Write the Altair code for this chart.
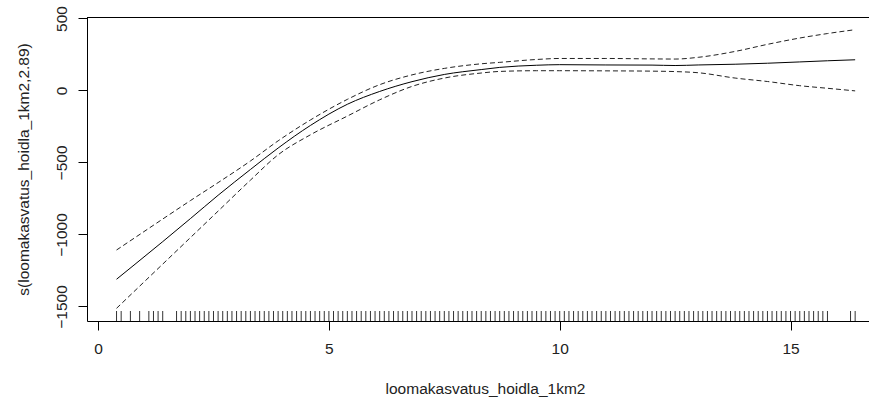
import altair as alt
import pandas as pd

# grid of the smooth term (x) and its fit with the +/- 2 SE band
x_grid = [0.4, 0.8, 1.4, 2.0, 2.6, 3.3, 3.9, 4.6, 5.4, 6.1, 6.8, 7.5, 8.3, 8.7,
          9.5, 10.0, 11.0, 12.0, 12.5, 13.0, 13.8, 14.5, 15.2, 15.8, 16.4]
fit = [-1311, -1207, -1050, -890, -728, -549, -400, -243, -96, -7, 61, 111, 145, 160,
       175, 179, 177, 176, 173, 177, 182, 189, 198, 206, 213]
upper = [-1108, -1022, -893, -765, -640, -490, -350, -205, -62, 40, 108, 153, 185, 195,
         215, 222, 222, 219, 218, 230, 271, 320, 364, 395, 422]
lower = [-1513, -1390, -1206, -1022, -838, -623, -447, -308, -178, -65, 28, 86, 121, 132,
         137, 137, 136, 134, 131, 123, 86, 62, 33, 15, -3]

# rug of observed x values
rug_x = [0.4, 0.5, 0.7, 0.9, 1.1, 1.2, 1.3, 1.4,
         1.7, 1.8, 1.9, 2.0, 2.1, 2.2, 2.3, 2.4, 2.5, 2.6, 2.7, 2.8, 2.9,
         3.0, 3.1, 3.2, 3.3, 3.4, 3.5, 3.6, 3.7, 3.8, 3.9,
         4.0, 4.1, 4.2, 4.3, 4.4, 4.5, 4.6, 4.7, 4.8, 4.9,
         5.0, 5.1, 5.2, 5.3, 5.4, 5.5, 5.6, 5.7, 5.8, 5.9,
         6.0, 6.1, 6.2, 6.3, 6.4, 6.5, 6.6, 6.7, 6.8, 6.9,
         7.0, 7.1, 7.2, 7.3, 7.4, 7.5, 7.6, 7.7, 7.8, 7.9,
         8.0, 8.1, 8.2, 8.3, 8.4, 8.5, 8.6, 8.7, 8.8, 8.9,
         9.0, 9.1, 9.2, 9.3, 9.4, 9.5, 9.6, 9.7, 9.8, 9.9,
         10.0, 10.1, 10.2, 10.3, 10.4, 10.5, 10.6, 10.7, 10.8, 10.9,
         11.0, 11.1, 11.2, 11.3, 11.4, 11.5, 11.6, 11.7, 11.8, 11.9,
         12.0, 12.1, 12.2, 12.3, 12.4, 12.5, 12.6, 12.7, 12.8, 12.9,
         13.0, 13.1, 13.2, 13.3, 13.4, 13.5, 13.6, 13.7, 13.8, 13.9,
         14.0, 14.1, 14.2, 14.3, 14.4, 14.5, 14.6, 14.7, 14.8, 14.9,
         15.0, 15.1, 15.2, 15.3, 15.4, 15.5, 15.6, 15.7, 15.8,
         16.3, 16.4]

x_ticks = [0, 5, 10, 15]
y_ticks = [-1500, -1000, -500, 0, 500]

X_DOMAIN = [-0.24, 16.70]
Y_DOMAIN = [-1601, 510]
W, H = 782, 304
FONT = "Liberation Sans"
FS = 15.5
TXT = "#222222"

curve = pd.DataFrame({"x": x_grid, "fit": fit, "upper": upper, "lower": lower})
rug = pd.DataFrame({"x": rug_x})

xscale = alt.Scale(domain=X_DOMAIN, nice=False, zero=False)
yscale = alt.Scale(domain=Y_DOMAIN, nice=False, zero=False)

x_axis = alt.Axis(values=x_ticks, format="d", grid=False, domainColor="black",
                  tickColor="black", tickSize=9, labelPadding=11, labelFont=FONT,
                  labelFontSize=FS, labelColor=TXT, title="loomakasvatus_hoidla_1km2",
                  titleFont=FONT, titleFontSize=FS, titleFontWeight="normal",
                  titleColor=TXT, titleX=398, titleY=72, titleBaseline="alphabetic",
                  titleAlign="center", labelFlush=False)
y_axis = alt.Axis(values=y_ticks, format="d", grid=False, domainColor="black",
                  tickColor="black", tickSize=9, labelPadding=12, labelAngle=-90,
                  labelAlign="center", labelBaseline="alphabetic", labelFont=FONT,
                  labelFontSize=FS, labelColor=TXT,
                  title="s(loomakasvatus_hoidla_1km2,2.89)", titleFont=FONT,
                  titleFontSize=FS, titleFontWeight="normal", titleColor=TXT,
                  titleAngle=-90, titleX=-59, titleY=152, titleAlign="center",
                  titleBaseline="alphabetic", labelFlush=False)

base = alt.Chart(curve)

fit_line = base.mark_line(color="black", strokeWidth=1, interpolate="monotone", clip=True).encode(
    x=alt.X("x:Q", scale=xscale, axis=x_axis),
    y=alt.Y("fit:Q", scale=yscale, axis=y_axis),
)
up_line = base.mark_line(color="#222222", strokeWidth=1, strokeDash=[5, 3],
                         interpolate="monotone", clip=True).encode(
    x=alt.X("x:Q", scale=xscale),
    y=alt.Y("upper:Q", scale=yscale),
)
lo_line = base.mark_line(color="#222222", strokeWidth=1, strokeDash=[5, 3],
                         interpolate="monotone", clip=True).encode(
    x=alt.X("x:Q", scale=xscale),
    y=alt.Y("lower:Q", scale=yscale),
)
rug_marks = alt.Chart(rug).mark_rule(color="#333333", strokeWidth=1).encode(
    x=alt.X("x:Q", scale=xscale),
    y=alt.value(H),
    y2=alt.value(H - 10),
)
top_border = alt.Chart(rug).mark_rule(color="black", strokeWidth=1).encode(
    x=alt.value(0), x2=alt.value(W), y=alt.value(0.5)
)

chart = alt.layer(rug_marks, lo_line, up_line, fit_line, top_border).properties(
    width=W, height=H,
    autosize=alt.AutoSizeParams(type="none"),
    padding={"left": 87, "top": 17, "right": 0, "bottom": 77},
    background="white",
).configure_view(stroke=None)

chart.save("out.html", embed_options={"renderer": "svg", "actions": False})
